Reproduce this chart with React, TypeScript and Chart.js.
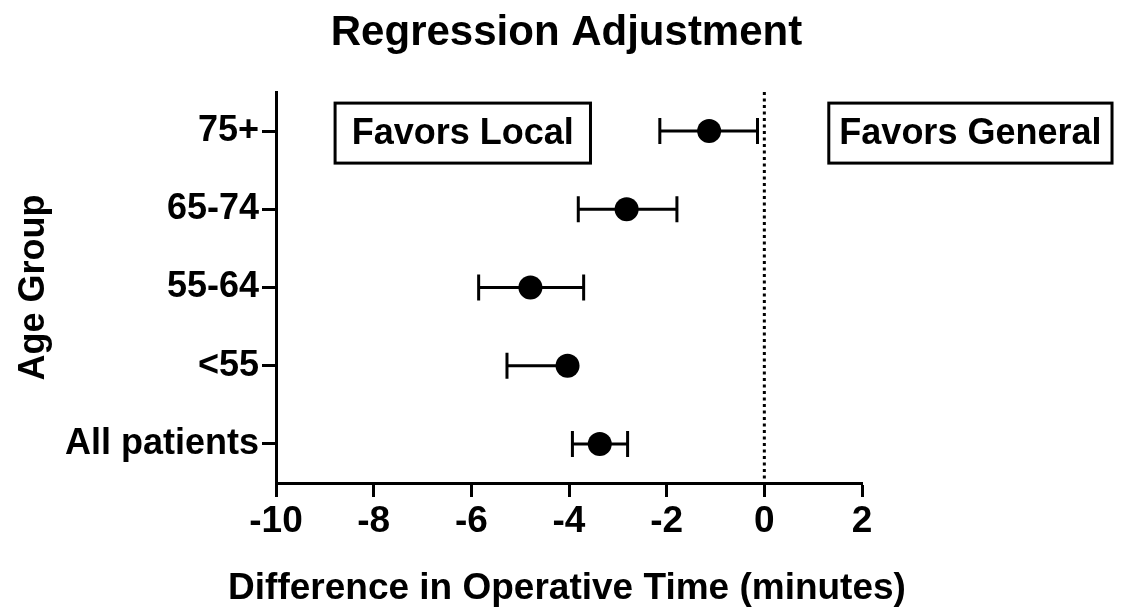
import React, { useEffect, useRef } from "react";
import { Chart, registerables } from "chart.js";

Chart.register(...registerables);

// ---- data ----
const groups = ["75+", "65-74", "55-64", "<55", "All patients"];
const estimates = [-1.13, -2.82, -4.79, -4.03, -3.37];
const lowerCI = [-2.14, -3.81, -5.85, -5.27, -3.93];
const upperCI: (number | null)[] = [-0.14, -1.79, -3.7, null, -2.8];
const xTickValues = [-10, -8, -6, -4, -2, 0, 2];
const noteLabels = ["Favors Local", "Favors General"];
const noteFrom = [-8.79, 1.32];
const noteTo = [-3.56, 7.12];
const noteRow = 0;
const xAxisTitle = "Difference in Operative Time (minutes)";

const FONT = "'Liberation Sans', Arial, Helvetica, sans-serif";

const refLinePlugin = {
  id: "refLine",
  beforeDatasetsDraw(chart: any) {
    const { ctx, chartArea, scales } = chart;
    const x0 = scales.x.getPixelForValue(0);
    ctx.save();
    ctx.strokeStyle = "#000";
    ctx.lineWidth = 3;
    ctx.setLineDash([3, 3.5]);
    ctx.beginPath();
    ctx.moveTo(x0, chartArea.top);
    ctx.lineTo(x0, chartArea.bottom);
    ctx.stroke();
    ctx.restore();
  },
};

const errorBarPlugin = {
  id: "errorBars",
  beforeDatasetsDraw(chart: any) {
    const { ctx, scales } = chart;
    const { x, y } = scales;
    const capHalf = 13;
    ctx.save();
    ctx.strokeStyle = "#000";
    ctx.lineWidth = 3;
    ctx.lineCap = "butt";
    groups.forEach((_, i) => {
      const py = y.getPixelForValue(i);
      const xl = x.getPixelForValue(lowerCI[i]);
      const hi = upperCI[i];
      const xh = x.getPixelForValue(hi == null ? estimates[i] : hi);
      ctx.beginPath();
      ctx.moveTo(xl, py);
      ctx.lineTo(xh, py);
      ctx.moveTo(xl, py - capHalf);
      ctx.lineTo(xl, py + capHalf);
      if (hi != null) {
        ctx.moveTo(xh, py - capHalf);
        ctx.lineTo(xh, py + capHalf);
      }
      ctx.stroke();
    });
    ctx.restore();
  },
};

const notePlugin = {
  id: "notes",
  afterDraw(chart: any) {
    const { ctx, scales } = chart;
    const { x, y } = scales;
    const cy = y.getPixelForValue(noteRow) + 2;
    const h = 60;
    ctx.save();
    ctx.font = `bold 36px ${FONT}`;
    ctx.textAlign = "center";
    ctx.textBaseline = "middle";
    noteLabels.forEach((label, i) => {
      const l = x.getPixelForValue(noteFrom[i]);
      const r = x.getPixelForValue(noteTo[i]);
      ctx.fillStyle = "#fff";
      ctx.fillRect(l, cy - h / 2, r - l, h);
      ctx.strokeStyle = "#000";
      ctx.lineWidth = 3;
      ctx.strokeRect(l, cy - h / 2, r - l, h);
      ctx.fillStyle = "#000";
      ctx.fillText(label, (l + r) / 2, cy + 1);
    });
    ctx.restore();
  },
};

// x-axis title drawn without Chart.js's width clamp (the title is wider than the axis)
const xTitlePlugin = {
  id: "xTitle",
  afterDraw(chart: any) {
    const { ctx, scales } = chart;
    const x = scales.x;
    ctx.save();
    ctx.font = `bold 37px ${FONT}`;
    ctx.fillStyle = "#000";
    ctx.textAlign = "center";
    ctx.textBaseline = "middle";
    ctx.fillText(xAxisTitle, (x.left + x.right) / 2 - 2, x.bottom - 25);
    ctx.restore();
  },
};

export default function App() {
  const ref = useRef<HTMLCanvasElement | null>(null);
  useEffect(() => {
    if (!ref.current) return;
    Chart.defaults.font.family = FONT;
    Chart.defaults.color = "#000";
    const chart = new Chart(ref.current, {
      type: "scatter",
      data: {
        datasets: [
          {
            data: groups.map((g, i) => ({ x: estimates[i], y: g })) as any,
            backgroundColor: "#000",
            borderColor: "#000",
            borderWidth: 0,
            pointRadius: 12,
            pointHoverRadius: 12,
            showLine: false,
          },
        ],
      },
      options: {
        responsive: false,
        animation: false,
        events: [],
        layout: { padding: { left: 10, right: 0, top: 0, bottom: 0 } },
        plugins: {
          legend: { display: false },
          tooltip: { enabled: false },
          title: {
            display: true,
            text: "Regression Adjustment",
            color: "#000",
            font: { size: 42, weight: "bold", family: FONT },
            padding: { top: 8, bottom: 33.6 },
          },
        },
        scales: {
          x: {
            type: "linear",
            position: "bottom",
            min: -10,
            max: 2,
            afterBuildTicks: (s: any) => {
              s.ticks = xTickValues.map((v) => ({ value: v }));
            },
            afterFit: (s: any) => {
              s.height = 131;
            },
            border: { display: true, color: "#000", width: 3 },
            grid: {
              drawOnChartArea: false,
              drawTicks: true,
              tickLength: 14,
              tickWidth: 3,
              tickColor: "#000",
            },
            ticks: {
              color: "#000",
              font: { size: 37, weight: "bold", family: FONT },
              padding: 3,
              maxRotation: 0,
              autoSkip: false,
            },
            title: { display: false },
          },
          y: {
            type: "category",
            labels: groups,
            offset: true,
            position: "left",
            afterFit: (s: any) => {
              s.width = 266;
            },
            border: { display: true, color: "#000", width: 3 },
            grid: {
              drawOnChartArea: false,
              drawTicks: true,
              tickLength: 14,
              tickWidth: 3,
              tickColor: "#000",
            },
            ticks: {
              color: "#000",
              font: { size: 36, weight: "bold", family: FONT },
              padding: 3,
              autoSkip: false,
            },
            title: {
              display: true,
              text: "Age Group",
              color: "#000",
              font: { size: 36, weight: "bold", family: FONT },
              padding: { top: 2, bottom: 0 },
            },
          },
          spacer: {
            type: "linear",
            position: "right",
            display: true,
            afterFit: (s: any) => {
              s.width = 261;
            },
            border: { display: false },
            grid: { display: false, drawTicks: false },
            ticks: { display: false },
            title: { display: false },
          },
        },
      },
      plugins: [refLinePlugin, errorBarPlugin, notePlugin, xTitlePlugin],
    });
    return () => chart.destroy();
  }, []);
  return (
    <div style={{ position: "absolute", left: 0, top: 0, width: 1123, height: 614, background: "#fff" }}>
      <canvas ref={ref} width={1123} height={614} style={{ display: "block" }} />
    </div>
  );
}
